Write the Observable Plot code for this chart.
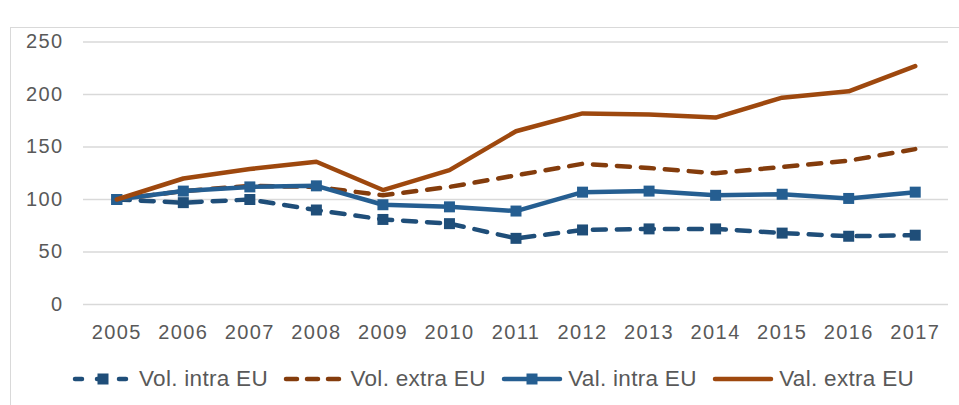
<!DOCTYPE html>
<html><head><meta charset="utf-8">
<script src="https://cdn.jsdelivr.net/npm/d3@7"></script>
<script src="https://cdn.jsdelivr.net/npm/@observablehq/plot@0.6"></script>
<style>
body{margin:0;background:#fff;font-family:"Liberation Sans",Arial,sans-serif;overflow:hidden;}
#frame{position:absolute;left:10px;top:27px;width:960px;height:400px;border-left:1.5px solid #d9d9d9;border-top:1.5px solid #d9d9d9;}
#chart{position:absolute;left:0;top:0;}
#chart svg text{letter-spacing:1.4px;}
#legend{position:absolute;left:61px;top:338px;display:flex;align-items:center;gap:15.5px;font-size:22.5px;letter-spacing:0.3px;color:#595959;white-space:nowrap;}
.item{display:flex;align-items:center;gap:5px;}
.item svg{display:block;}
</style></head>
<body>
<div id="frame"><div id="chart"></div><div id="legend"></div></div>
<script>
const years = [2005,2006,2007,2008,2009,2010,2011,2012,2013,2014,2015,2016,2017];
const volIntra = [100,97,100,90,81,77,63,71,72,72,68,65,66];
const volExtra = [100,108,113,112,104,112,123,134,130,125,131,137,148];
const valIntra = [100,108,112,113,95,93,89,107,108,104,105,101,107];
const valExtra = [100,120,129,136,109,128,165,182,181,178,197,203,227];
const yTicks = [0,50,100,150,200,250];
const seriesNames = ["Vol. intra EU","Vol. extra EU","Val. intra EU","Val. extra EU"];

const series = [
  {name: seriesNames[0], values: volIntra, color: "#1F4E79", dash: "13,11", marker: true},
  {name: seriesNames[1], values: volExtra, color: "#843C0C", dash: "13,11", marker: false},
  {name: seriesNames[2], values: valIntra, color: "#255E91", dash: null, marker: true},
  {name: seriesNames[3], values: valExtra, color: "#9E480E", dash: null, marker: false}
];

const marks = [
  Plot.ruleY(yTicks, {stroke: "#d9d9d9", strokeWidth: 1.5}),
  Plot.axisY(yTicks, {tickSize: 0, tickPadding: 20, fontSize: 20, label: null}),
  Plot.axisX(years, {tickSize: 0, tickPadding: 20, fontSize: 20, label: null, tickFormat: d => String(d)})
];
for (const s of series) {
  const rows = years.map((y, i) => ({year: y, value: s.values[i]}));
  marks.push(Plot.line(rows, {x: "year", y: "value", stroke: s.color, strokeWidth: 4.5,
    strokeDasharray: s.dash || undefined, strokeLinecap: "round", strokeLinejoin: "round"}));
  if (s.marker) marks.push(Plot.dot(rows, {x: "year", y: "value", symbol: "square", r: 6.2, fill: s.color, stroke: null}));
}

const chart = Plot.plot({
  width: 948, height: 318,
  marginLeft: 72, marginRight: 11, marginTop: 13.5, marginBottom: 42,
  x: {type: "linear", domain: [2004.5, 2017.5]},
  y: {domain: [0, 250]},
  style: {fontFamily: "Liberation Sans, Arial, sans-serif", color: "#595959", background: "transparent"},
  marks
});
document.getElementById("chart").appendChild(chart);

const legend = document.getElementById("legend");
for (const s of series) {
  const item = document.createElement("div");
  item.className = "item";
  const ns = "http://www.w3.org/2000/svg";
  const sw = document.createElementNS(ns, "svg");
  sw.setAttribute("width", 62); sw.setAttribute("height", 20);
  const ln = document.createElementNS(ns, "line");
  ln.setAttribute("x1", 3); ln.setAttribute("x2", 59); ln.setAttribute("y1", 10); ln.setAttribute("y2", 10);
  ln.setAttribute("stroke", s.color); ln.setAttribute("stroke-width", 4.5); ln.setAttribute("stroke-linecap", "round");
  if (s.dash) ln.setAttribute("stroke-dasharray", s.marker ? "7,15" : "11,10");
  sw.appendChild(ln);
  if (s.marker) {
    const r = document.createElementNS(ns, "rect");
    r.setAttribute("x", 25.5); r.setAttribute("y", 4.5); r.setAttribute("width", 11); r.setAttribute("height", 11);
    r.setAttribute("fill", s.color);
    sw.appendChild(r);
  }
  item.appendChild(sw);
  const t = document.createElement("span");
  t.textContent = s.name;
  item.appendChild(t);
  legend.appendChild(item);
}
</script>
</body></html>
